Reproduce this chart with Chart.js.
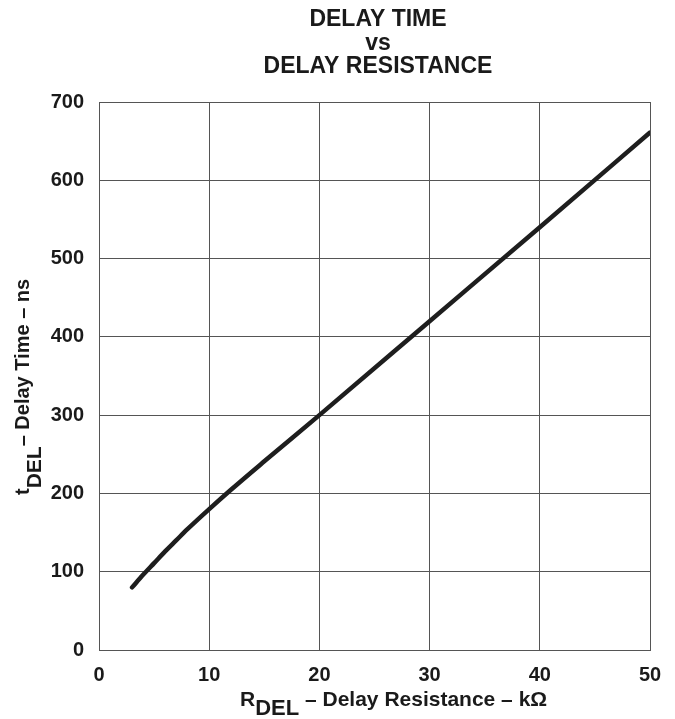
<!DOCTYPE html>
<html>
<head>
<meta charset="utf-8">
<script src="https://cdn.jsdelivr.net/npm/chart.js@4/dist/chart.umd.min.js"></script>
<style>
  html, body { margin: 0; padding: 0; background: #fff; }
  canvas { display: block; }
</style>
</head>
<body>
<canvas id="c" width="675" height="719"></canvas>
<script>
// ---- data ----
const resistanceK = [3, 4, 5, 6, 7, 8, 10, 12, 15, 20, 30, 40, 50];             // R_DEL (kΩ)
const delayNs     = [80, 96, 111, 126, 140, 154, 180, 205, 241, 300, 420, 540, 661]; // t_DEL (ns)
const xTicks = [0, 10, 20, 30, 40, 50];
const yTicks = [0, 100, 200, 300, 400, 500, 600, 700];
const titleLines = ["DELAY TIME", "vs", "DELAY RESISTANCE"];

const FONT = '"Liberation Sans", Arial, Helvetica, sans-serif';

const textPlugin = {
  id: 'texts',
  afterDraw(chart) {
    const ctx = chart.ctx;
    ctx.save();
    ctx.fillStyle = '#1a1a1a';
    // title
    ctx.font = 'bold 23px ' + FONT;
    ctx.textAlign = 'center';
    ctx.textBaseline = 'alphabetic';
    const cx = 378;
    ctx.fillText(titleLines[0], cx, 26);
    ctx.fillText(titleLines[1], cx, 50);
    ctx.fillText(titleLines[2], cx, 73);

    // x-axis title with subscript
    ctx.textAlign = 'left';
    const mainF = 'bold 21px ' + FONT;
    const subF = 'bold 22px ' + FONT;
    let x = 240;
    ctx.font = mainF; ctx.fillText('R', x, 706); x += ctx.measureText('R').width;
    ctx.font = subF; ctx.fillText('DEL', x, 715); x += ctx.measureText('DEL').width;
    ctx.font = mainF; ctx.fillText(' \u2013 Delay Resistance \u2013 k\u03A9', x, 706);

    // y-axis title rotated with subscript
    ctx.save();
    ctx.translate(0, 495);
    ctx.rotate(-Math.PI / 2);
    let y = 0;
    const mainY = 'bold 20px ' + FONT;
    const subY = 'bold 21px ' + FONT;
    ctx.font = mainY; ctx.fillText('t', y, 29); y += ctx.measureText('t').width;
    ctx.font = subY; ctx.fillText('DEL', y, 41); y += ctx.measureText('DEL').width;
    ctx.font = mainY; ctx.fillText('\u2013 Delay Time \u2013 ns', y, 29);
    ctx.restore();
    ctx.restore();
  }
};

const points = resistanceK.map((r, i) => ({ x: r, y: delayNs[i] }));

new Chart(document.getElementById('c'), {
  type: 'line',
  data: {
    datasets: [{
      data: points,
      borderColor: '#1e1e1e',
      borderWidth: 4.5,
      borderCapStyle: 'round',
      borderJoinStyle: 'round',
      pointRadius: 0,
      fill: false,
      cubicInterpolationMode: 'monotone'
    }]
  },
  options: {
    responsive: false,
    animation: false,
    layout: { padding: { top: 102, right: 25, bottom: 0, left: 0 } },
    plugins: { legend: { display: false }, tooltip: { enabled: false }, title: { display: false } },
    scales: {
      x: {
        type: 'linear',
        min: 0, max: 50,
        afterBuildTicks(scale) { scale.ticks = xTicks.map(v => ({ value: v })); },
        afterFit(scale) { scale.height = 69; },
        grid: { color: '#555', lineWidth: 1, drawTicks: false },
        border: { color: '#555', width: 1 },
        ticks: { color: '#1a1a1a', font: { family: FONT, size: 20, weight: 'bold' }, padding: 13, maxRotation: 0 }
      },
      y: {
        type: 'linear',
        min: 0, max: 700,
        afterBuildTicks(scale) { scale.ticks = yTicks.map(v => ({ value: v })); },
        afterFit(scale) { scale.width = 99; },
        grid: { color: '#555', lineWidth: 1, drawTicks: false },
        border: { color: '#555', width: 1 },
        ticks: { color: '#1a1a1a', font: { family: FONT, size: 20, weight: 'bold' }, padding: 15 }
      }
    }
  },
  plugins: [textPlugin]
});
</script>
</body>
</html>
